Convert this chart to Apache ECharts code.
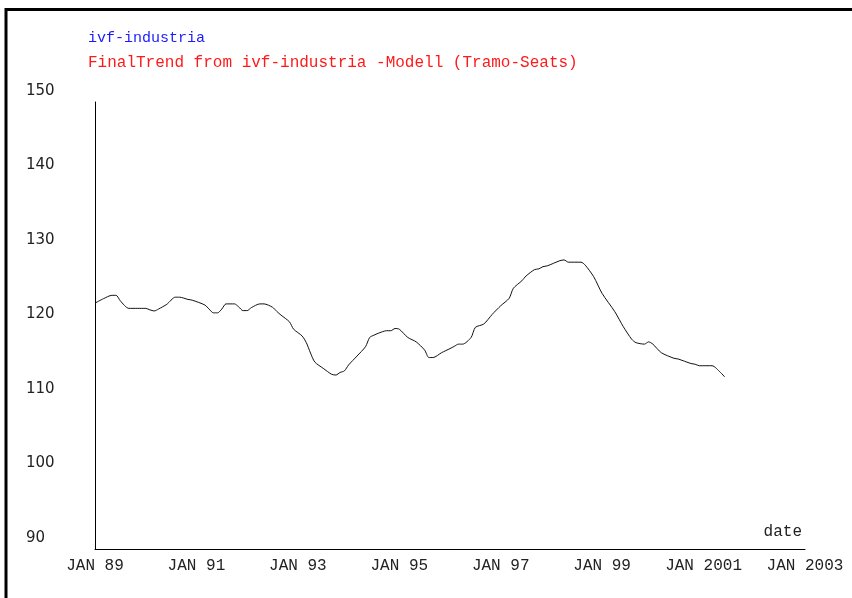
<!DOCTYPE html>
<html>
<head>
<meta charset="utf-8">
<title>ivf-industria</title>
<script src="https://cdn.jsdelivr.net/npm/echarts@6/dist/echarts.min.js"></script>
<style>
  html, body { margin: 0; padding: 0; background: #ffffff; }
  #chart { width: 852px; height: 598px; }
</style>
</head>
<body>
<div id="chart"></div>
<script>
// Monthly observation dates (YYYY-MM) and trend values
const trendDates = [
  '1989-01','1989-03','1989-05','1989-06','1989-07','1989-09','1989-11',
  '1990-01','1990-02','1990-03','1990-04','1990-06','1990-08','1990-09','1990-11','1990-12',
  '1991-03','1991-04','1991-05','1991-06','1991-07','1991-08','1991-10','1991-11','1991-12',
  '1992-01','1992-02','1992-04','1992-05','1992-07','1992-08','1992-09','1992-11','1992-12',
  '1993-02','1993-03','1993-04','1993-05','1993-07','1993-09','1993-10','1993-11','1993-12',
  '1994-01','1994-03','1994-05','1994-06','1994-07','1994-08','1994-10','1994-11','1994-12',
  '1995-01','1995-03','1995-05','1995-07','1995-08','1995-09','1995-11',
  '1996-01','1996-02','1996-03','1996-04','1996-06','1996-07','1996-09','1996-11',
  '1997-01','1997-03','1997-04','1997-06','1997-07','1997-09','1997-10','1997-11','1997-12',
  '1998-03','1998-04','1998-05','1998-08','1998-09','1998-11',
  '1999-01','1999-04','1999-06','1999-08','1999-09','1999-11','1999-12',
  '2000-01','2000-03','2000-06','2000-07','2000-10','2000-11','2000-12',
  '2001-03','2001-05','2001-06'
];
const trendValues = [
  123.0,123.6,124.05,124.05,123.3,122.3,122.3,
  122.3,122.1,121.95,122.2,122.85,123.8,123.8,123.5,123.4,
  122.75,122.2,121.7,121.7,122.2,122.9,122.9,122.5,122.0,
  122.0,122.4,122.9,122.9,122.45,121.9,121.4,120.5,119.5,
  118.6,117.7,116.3,115.1,114.25,113.45,113.35,113.7,113.9,
  114.7,115.9,117.15,118.4,118.7,118.95,119.3,119.3,119.6,
  119.5,118.4,117.8,116.7,115.7,115.7,116.35,
  116.9,117.2,117.5,117.5,118.4,119.75,120.2,121.5,
  122.65,123.65,125.0,126.0,126.65,127.5,127.6,127.9,128.0,
  128.7,128.8,128.5,128.5,128.1,126.55,
  124.3,121.85,119.85,118.15,117.7,117.5,117.8,
  117.5,116.35,115.6,115.5,114.9,114.8,114.6,
  114.6,113.7,113.1
];

// Axis settings
const yearStart = 1989;
const yearEnd = 2003;
const yearStep = 2;
const valueMin = 90;
const valueMax = 150;
const valueStep = 10;

const legendNames = ['ivf-industria', 'FinalTrend from ivf-industria -Modell (Tramo-Seats)'];

function toDecimalYear(s) {
  const [y, m] = s.split('-').map(Number);
  return y + (m - 1) / 12;
}

function janLabel(v) {
  const y = Math.round(v);
  return 'JAN ' + (y < 2000 ? String(y).slice(2) : String(y));
}

const chart = echarts.init(document.getElementById('chart'), null, { renderer: 'canvas' });

const monoFont = '"Liberation Mono", "DejaVu Sans Mono", monospace';

chart.setOption({
  backgroundColor: '#ffffff',
  animation: false,
  grid: { left: 95, top: 102, right: 47, bottom: 49, containLabel: false },
  xAxis: {
    type: 'value',
    min: yearStart,
    max: yearEnd,
    interval: yearStep,
    name: 'date',
    nameLocation: 'end',
    nameGap: 0,
    nameTextStyle: {
      fontFamily: monoFont, fontSize: 16, color: '#222',
      align: 'right', verticalAlign: 'bottom', padding: [0, 3, 9, 0]
    },
    axisLine: { show: true, lineStyle: { color: '#000', width: 1 } },
    axisTick: { show: false },
    splitLine: { show: false },
    axisLabel: {
      formatter: janLabel,
      showMinLabel: true, showMaxLabel: true,
      fontFamily: monoFont, fontSize: 16, color: '#222', margin: 9
    }
  },
  yAxis: {
    type: 'value',
    min: valueMin,
    max: valueMax,
    interval: valueStep,
    axisLine: { show: true, lineStyle: { color: '#000', width: 1 } },
    axisTick: { show: false },
    splitLine: { show: false },
    axisLabel: {
      align: 'left', margin: 69,
      verticalAlign: 'bottom', lineHeight: 22,
      fontFamily: '"DejaVu Sans", sans-serif', fontSize: 15, color: '#222'
    }
  },
  series: [{
    name: legendNames[1],
    type: 'line',
    showSymbol: false,
    smooth: 0.25,
    lineStyle: { color: '#111', width: 1 },
    data: trendDates.map((d, i) => [toDecimalYear(d), trendValues[i]])
  }],
  graphic: [
    // frame along the top and left edges
    { type: 'polyline', shape: { points: [[6, 700], [6, 9.5], [900, 9.5]] },
      style: { stroke: '#000', lineWidth: 3, fill: null }, silent: true },
    { type: 'text', left: 88, top: 31,
      style: { text: legendNames[0], fill: '#1a1aff', font: '15px ' + monoFont } },
    { type: 'text', left: 88, top: 55,
      style: { text: legendNames[1], fill: '#ff1a1a', font: '16px ' + monoFont } }
  ]
});
</script>
</body>
</html>
